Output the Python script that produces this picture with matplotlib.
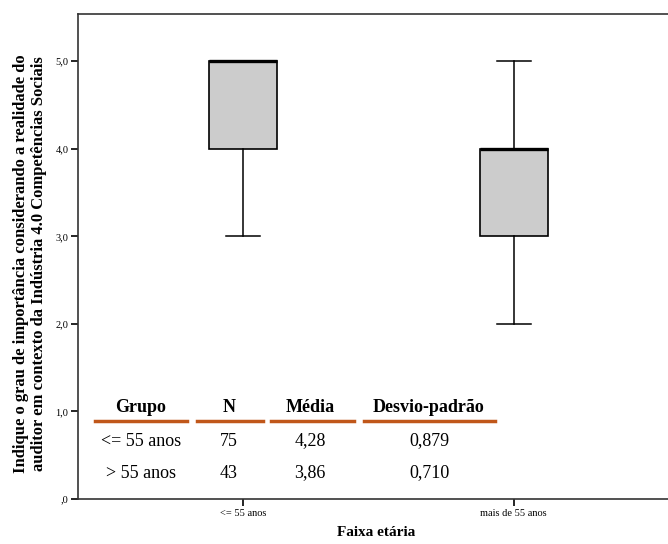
import matplotlib
matplotlib.use("Agg")
import matplotlib.pyplot as plt
from matplotlib.lines import Line2D

# Data
groups = ["<= 55 anos", "mais de 55 anos"]
q1 = [4.0, 3.0]
q3 = [5.0, 4.0]
medians = [5.0, 4.0]
whislo = [3.0, 2.0]
whishi = [5.0, 5.0]

yticks = [0, 1, 2, 3, 4, 5]
ytick_labels = [",0", "1,0", "2,0", "3,0", "4,0", "5,0"]

table_header = ["Grupo", "N", "Média", "Desvio-padrão"]
table_rows = [["<= 55 anos", "75", "4,28", "0,879"],
              ["> 55 anos", "43", "3,86", "0,710"]]

plt.rcParams['font.family'] = ['Liberation Serif', 'DejaVu Serif']

W, H = 668, 544
fig = plt.figure(figsize=(W / 100, H / 100), dpi=100)
ax = fig.add_axes([78 / W, 45 / H, 1 - 78 / W, (499 - 14) / H])

stats = []
for i in range(len(groups)):
    stats.append(dict(med=medians[i], q1=q1[i], q3=q3[i],
                      whislo=whislo[i], whishi=whishi[i], fliers=[], label=groups[i]))

ax.bxp(stats, positions=[1, 2], widths=0.25, patch_artist=True, showfliers=False,
       boxprops=dict(facecolor="#cccccc", edgecolor="black", linewidth=1.2),
       medianprops=dict(color="black", linewidth=2.4),
       whiskerprops=dict(color="black", linewidth=1.1),
       capprops=dict(color="black", linewidth=1.1),
       capwidths=0.125)

ax.set_xlim(0.39, 2.57)
ax.set_ylim(0, 5.54)
ax.set_yticks(yticks)
ax.set_yticklabels(ytick_labels, fontsize=7.5)
ax.set_xticks([1, 2])
ax.set_xticklabels(groups, fontsize=7.5)
ax.tick_params(axis='both', direction='out', length=5, width=1.2, pad=2, colors="black")
ax.spines['right'].set_visible(False)
for s in ['left', 'top', 'bottom']:
    ax.spines[s].set_linewidth(1.2)
    ax.spines[s].set_color("#333333")

def fx(px):
    return px / W

def fy(py):
    return 1 - py / H

fig.text(fx(376), fy(533), "Faixa etária", ha='center', va='center',
         fontsize=11, fontweight='bold')
fig.text(fx(30), fy(264),
         "Indique o grau de importância considerando a realidade do\nauditor em contexto da Indústria 4.0 Competências Sociais",
         ha='center', va='center', rotation=90, fontsize=12, fontweight='bold',
         linespacing=1.12, multialignment='center')

# Table overlay (pixel positions converted to figure fraction)
col_centers = [141, 229, 310, 429]
line_spans = [(95, 187), (197, 263), (271, 354), (364, 495)]
header_y = 407
line_y = 421
row_ys = [441, 473]

for c, h in zip(col_centers, table_header):
    fig.text(fx(c), fy(header_y), h, ha='center', va='center', fontsize=13, fontweight='bold')
for (x0, x1) in line_spans:
    fig.add_artist(Line2D([fx(x0), fx(x1)], [fy(line_y), fy(line_y)], color="#C0571A", linewidth=2.5))
for ry, row in zip(row_ys, table_rows):
    for c, v in zip(col_centers, row):
        fig.text(fx(c), fy(ry), v, ha='center', va='center', fontsize=13)

fig.savefig("out.png", dpi=100)
